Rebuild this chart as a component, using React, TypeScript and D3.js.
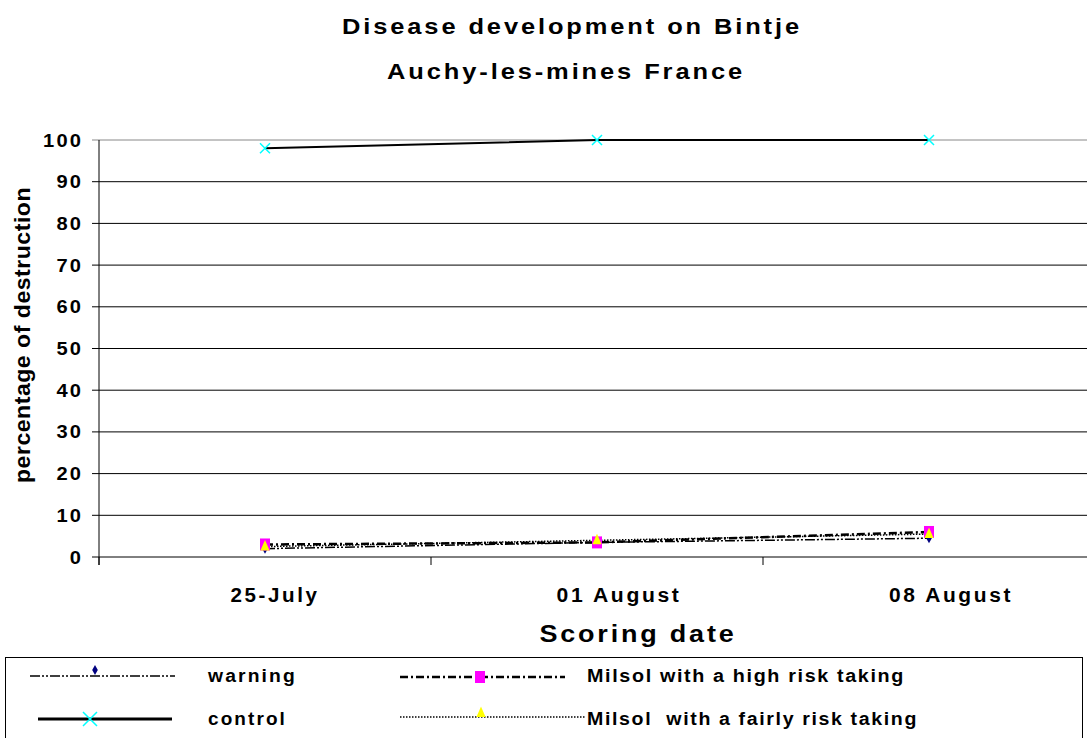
import React from "react";
import * as d3 from "d3";

const categories = ["25-July", "01 August", "08 August"];
const yTicks = [0, 10, 20, 30, 40, 50, 60, 70, 80, 90, 100];
const warning = [2, 3.5, 4.5];
const highRisk = [3, 3.5, 6];
const fairlyRisk = [2.5, 4, 5.5];
const control = [98, 100, 100];

const W = 1087;
const H = 738;
const plot = { left: 99, right: 1095, top: 140, bottom: 557 };
const font = "'Liberation Sans', Arial, sans-serif";
const labelOffsets = [10, 22, 22];
const labelWidths = [89, 125, 124];

function T(props: any) {
  const { w, ls = 2, children, ...rest } = props;
  return (
    <text fontWeight="bold" letterSpacing={ls} textLength={w} lengthAdjust="spacingAndGlyphs" {...rest}>
      {children}
    </text>
  );
}

export default function App() {
  const x = d3.scaleBand().domain(categories).range([plot.left, plot.right]).padding(0);
  const y = d3.scaleLinear().domain([0, 100]).range([plot.bottom, plot.top]);
  const cx = (c: string) => (x(c) as number) + x.bandwidth() / 2;
  const line = d3
    .line<number>()
    .x((_, i) => cx(categories[i]))
    .y((d) => y(d));

  const diamond = (px: number, py: number, s = 4) =>
    `M${px},${py - s - 1}L${px + s * 0.7},${py}L${px},${py + s + 1}L${px - s * 0.7},${py}Z`;
  const tri = (px: number, py: number, s = 6.5) =>
    `M${px},${py - s}L${px + s * 0.7},${py + s * 0.6}L${px - s * 0.7},${py + s * 0.6}Z`;
  const cross = (px: number, py: number, s = 5) =>
    `M${px - s},${py - s}L${px + s},${py + s}M${px - s},${py + s}L${px + s},${py - s}`;

  const bandEdges = categories.map((c) => x(c) as number).concat([plot.right]);

  return (
    <svg width={W} height={H} style={{ position: "absolute", left: 0, top: 0, background: "#fff" }} fontFamily={font}>
      <rect x={0} y={0} width={W} height={H} fill="#fff" />
      <T x={572} y={34} textAnchor="middle" fontSize={22} ls={2.5} w={460}>
        Disease development on Bintje
      </T>
      <T x={566} y={79} textAnchor="middle" fontSize={22} ls={2.5} w={358}>
        Auchy-les-mines France
      </T>

      {/* gridlines */}
      {yTicks.map((t) => (
        <line key={t} x1={plot.left - 7} x2={W} y1={y(t)} y2={y(t)} stroke={t === 100 ? "#888" : "#000"} strokeWidth={1} />
      ))}
      {/* axes */}
      <line x1={plot.left} x2={plot.left} y1={plot.top} y2={plot.bottom + 8} stroke="#000" />
      {bandEdges.map((e, i) => (
        <line key={i} x1={e} x2={e} y1={plot.bottom} y2={plot.bottom + 8} stroke="#000" />
      ))}
      {yTicks.map((t) => (
        <T key={t} x={83} y={y(t) + 6.5} textAnchor="end" fontSize={19} ls={2} w={String(t).length * 13.3}>
          {t}
        </T>
      ))}
      {categories.map((c, i) => (
        <T key={c} x={cx(c) + labelOffsets[i]} y={602} textAnchor="middle" fontSize={20} ls={2.5} w={labelWidths[i]}>
          {c}
        </T>
      ))}
      <T x={638} y={642} textAnchor="middle" fontSize={24} ls={2.5} w={197}>
        Scoring date
      </T>
      <T transform={`translate(30,335) rotate(-90)`} textAnchor="middle" fontSize={22} ls={0.5} w={296}>
        percentage of destruction
      </T>

      {/* series lines */}
      <path d={line(control) || ""} fill="none" stroke="#000" strokeWidth={2} />
      <path d={line(warning) || ""} fill="none" stroke="#000" strokeWidth={1.5} strokeDasharray="10 2 2 2 2 2" />
      <path d={line(highRisk) || ""} fill="none" stroke="#000" strokeWidth={2.5} strokeDasharray="8 3 2 3" />
      <path d={line(fairlyRisk) || ""} fill="none" stroke="#000" strokeWidth={1.5} strokeDasharray="1.5 1.5" />

      {/* markers */}
      {categories.map((c, i) => (
        <g key={c}>
          <path d={diamond(cx(c), y(warning[i]))} fill="#000080" />
          <rect x={cx(c) - 5} y={y(highRisk[i]) - 6} width={10} height={12} fill="#ff00ff" />
          <path d={tri(cx(c), y(fairlyRisk[i]))} fill="#ffff00" />
          <path d={cross(cx(c), y(control[i]))} stroke="#00ffff" strokeWidth={1.5} fill="none" />
        </g>
      ))}

      {/* legend */}
      <rect x={5.5} y={657.5} width={1077} height={90} fill="#fff" stroke="#000" />
      <line x1={30} x2={175} y1={676} y2={676} stroke="#000" strokeWidth={1.5} strokeDasharray="10 2 2 2 2 2" />
      <path d={diamond(95, 670)} fill="#000080" />
      <T x={208} y={682} fontSize={18} ls={2} w={89}>warning</T>

      <line x1={38} x2={172} y1={719} y2={719} stroke="#000" strokeWidth={3} />
      <path d={cross(90, 719, 7)} stroke="#00ffff" strokeWidth={1.5} fill="none" />
      <T x={208} y={725} fontSize={18} ls={2} w={79}>control</T>

      <line x1={400} x2={565} y1={677} y2={677} stroke="#000" strokeWidth={2.5} strokeDasharray="8 3 2 3" />
      <rect x={475} y={671} width={10} height={12} fill="#ff00ff" />
      <T x={587} y={682} fontSize={18} ls={1.5} w={318}>Milsol with a high risk taking</T>

      <line x1={400} x2={585} y1={717} y2={717} stroke="#000" strokeWidth={1.5} strokeDasharray="1.5 1.5" />
      <path d={tri(481, 713)} fill="#ffff00" />
      <T x={587} y={725} fontSize={18} ls={1.5} w={331} style={{ whiteSpace: "pre" }}>
        Milsol  with a fairly risk taking
      </T>
    </svg>
  );
}
